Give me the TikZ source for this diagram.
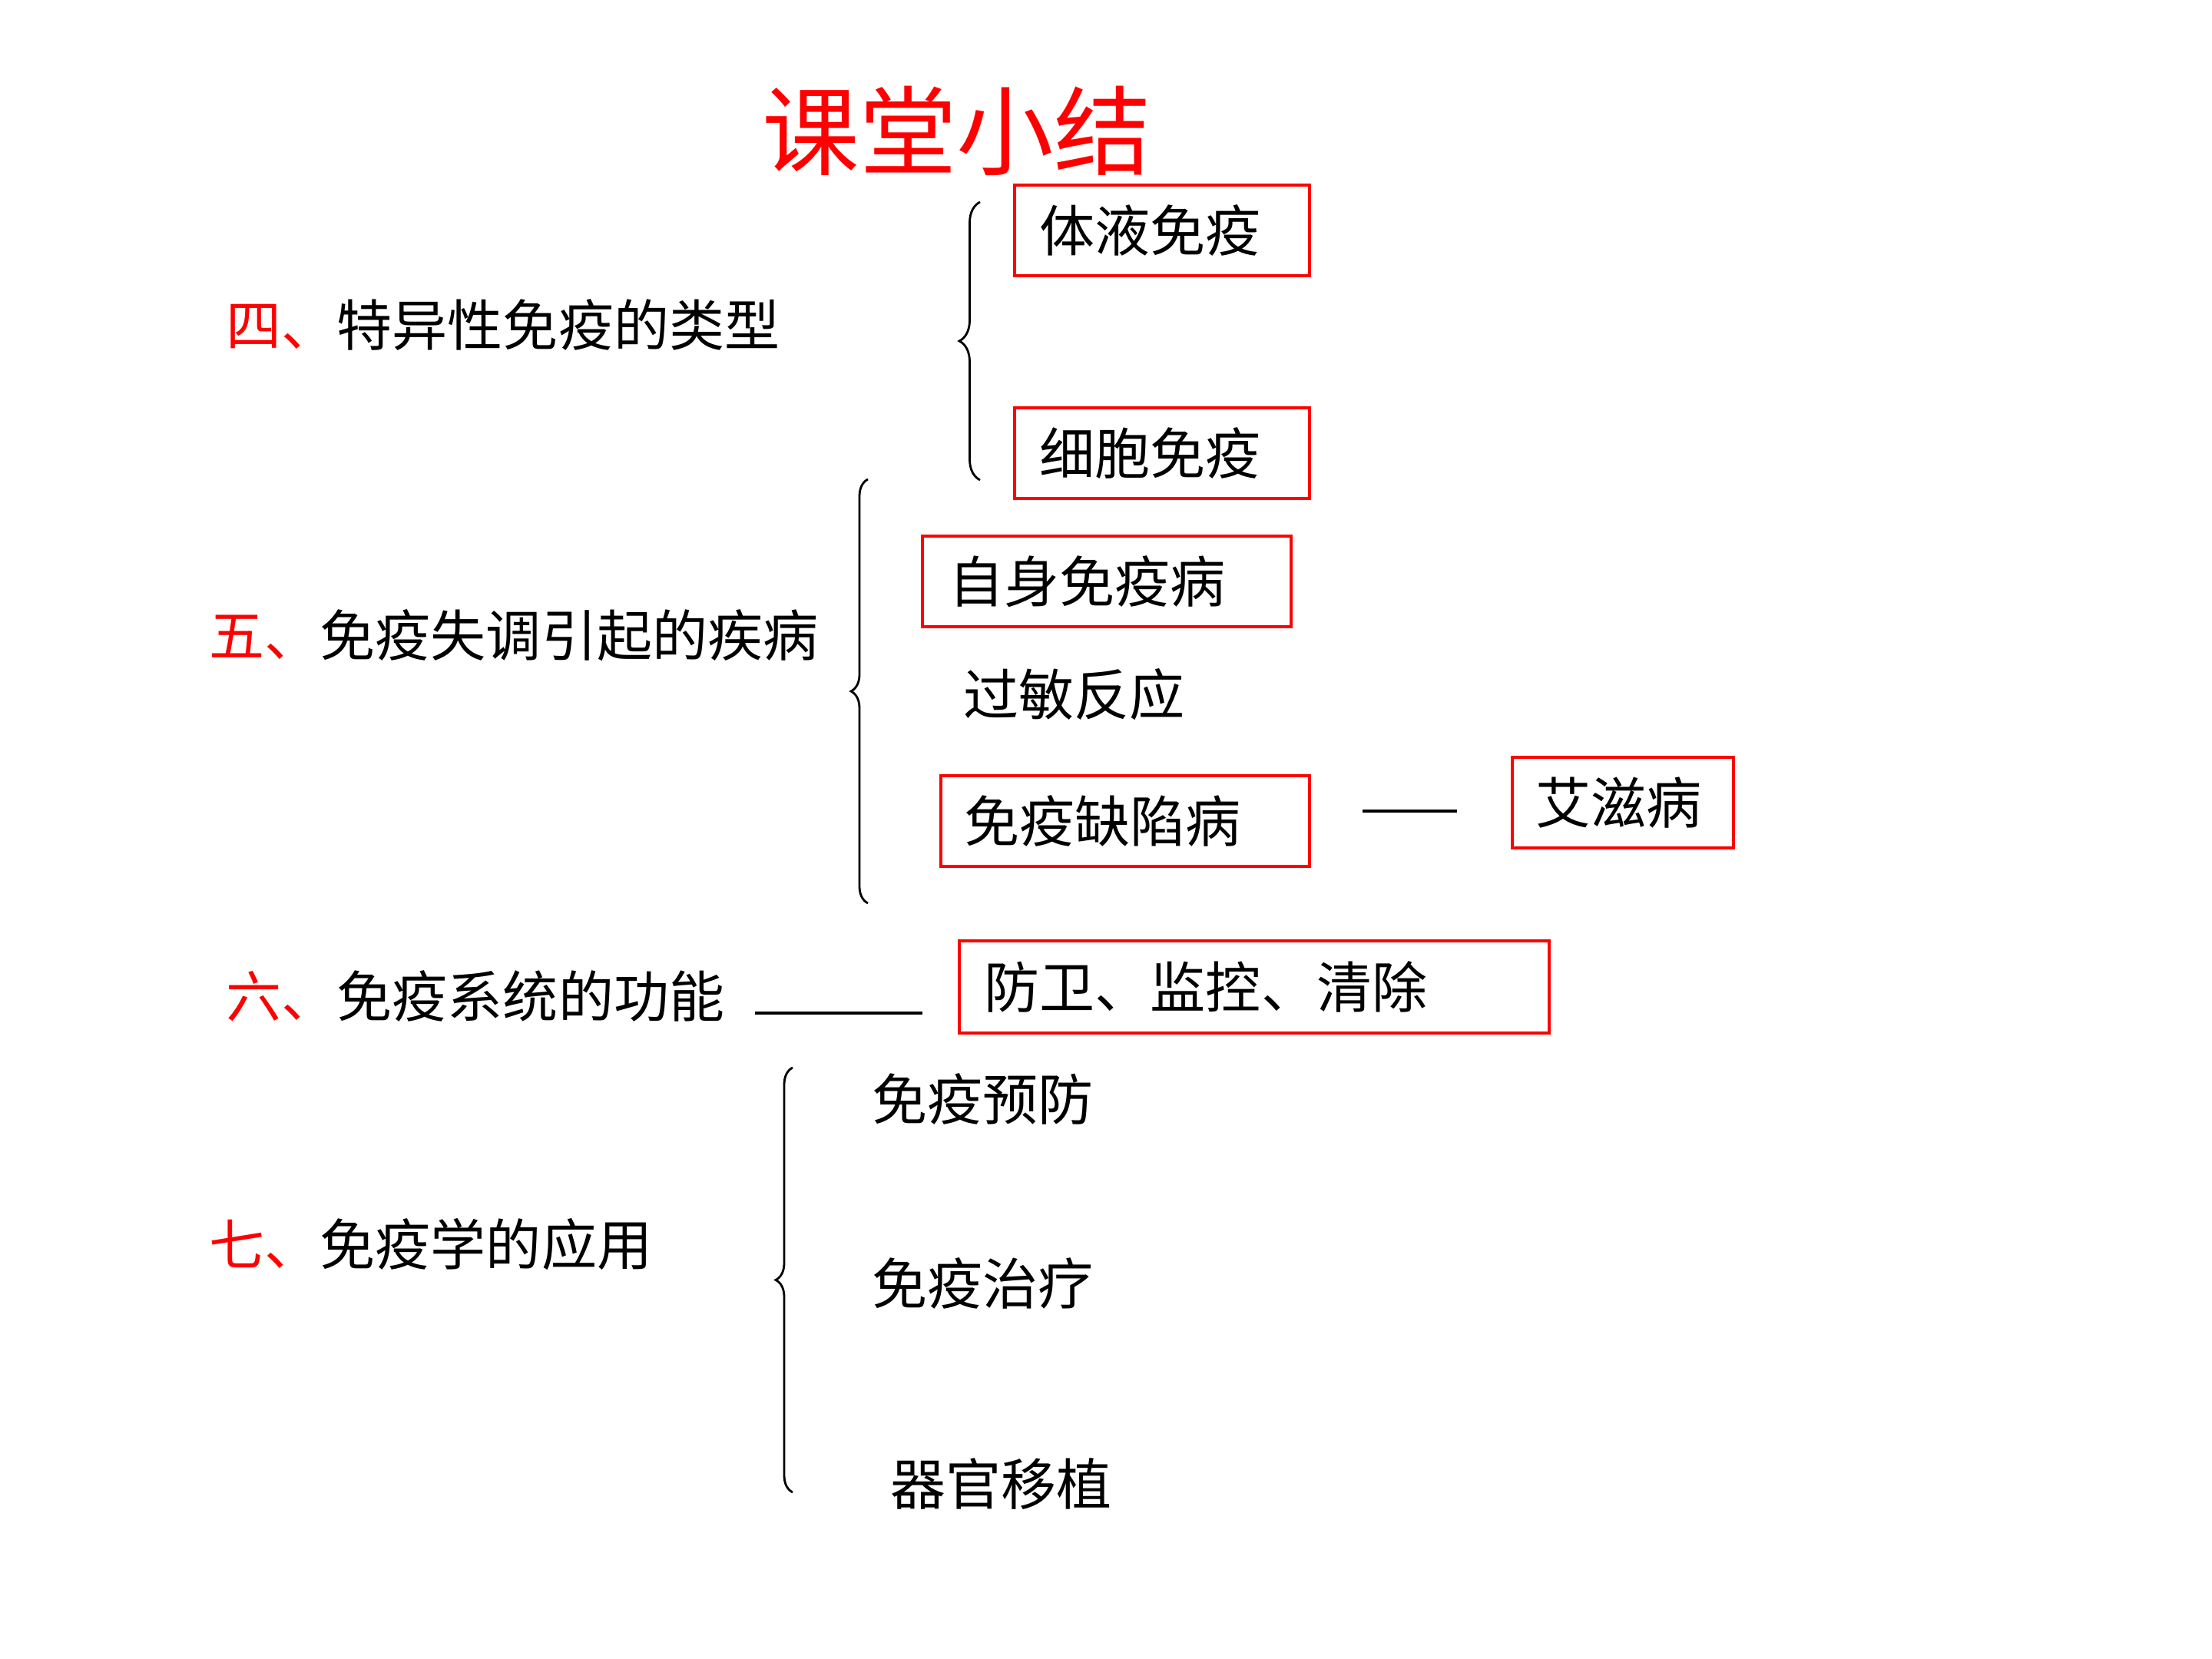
\documentclass[tikz,border=0pt]{standalone}
\usepackage{fontspec}
\setmainfont{Noto Sans CJK SC}
\usetikzlibrary{decorations.pathreplacing,calc}
\begin{document}
\begin{tikzpicture}[x=1cm,y=1cm,
  lbl/.style={anchor=west,inner sep=0pt,font=\fontsize{20.5}{24}\selectfont},
  rbox/.style={draw=red,line width=1pt,anchor=north west,inner ysep=0pt,
     minimum height=#1,align=left,font=\fontsize{20.5}{24}\selectfont},
  rbox/.default=1.18cm,
  brc/.style={decorate,decoration={brace,amplitude=#1},line width=0.8pt},
  conn/.style={line width=1.1pt}]
\useasboundingbox[fill=white] (0,0) rectangle (28.8,-21.6);
% title
\node[anchor=west,inner sep=0pt,text=red,font=\fontsize{36}{40}\selectfont] (title) at (9.92,-1.70) {课堂小结};
% section 4
\node[lbl] (s4) at (2.94,-4.23) {\textcolor{red}{四、}特异性免疫的类型};
\node[rbox,inner xsep=0.33cm,text width=3.18cm] (ty) at (13.19,-2.39) {体液免疫};
\node[rbox,inner xsep=0.33cm,text width=3.18cm] (xb) at (13.19,-5.29) {细胞免疫};
\coordinate (b1b) at (12.76,-6.25);
\coordinate (b1t) at (12.76,-2.63);
\draw[brc=0.27cm] (b1b) -- (b1t);
% section 5
\node[lbl] (s5) at (2.72,-8.27) {\textcolor{red}{五、}免疫失调引起的疾病};
\node[rbox,inner xsep=0.35cm,text width=4.10cm] (zs) at (11.99,-6.96) {自身免疫病};
\node[lbl] (gm) at (12.54,-9.04) {过敏反应};
\node[rbox,inner xsep=0.31cm,text width=4.18cm] (qx) at (12.23,-10.08) {免疫缺陷病};
\node[rbox,inner xsep=0.31cm,text width=2.26cm] (az) at (19.67,-9.84) {艾滋病};
\coordinate (dl) at (17.74,-10.56);
\coordinate (dr) at (18.97,-10.56);
\draw[conn] (dl) -- (dr);
\coordinate (b2b) at (11.30,-11.76);
\coordinate (b2t) at (11.30,-6.24);
\draw[brc=0.22cm] (b2b) -- (b2t);
% section 6
\node[lbl] (s6) at (2.94,-12.97) {\textcolor{red}{六、}免疫系统的功能};
\node[rbox=1.20cm,inner xsep=0.33cm,text width=7.02cm] (fw) at (12.47,-12.23) {防卫、监控、清除};
\coordinate (l6a) at (9.83,-13.19);
\coordinate (l6b) at (12.01,-13.19);
\draw[conn] (l6a) -- (l6b);
% section 7
\node[lbl] (s7) at (2.72,-16.20) {\textcolor{red}{七、}免疫学的应用};
\node[lbl] (yf) at (11.35,-14.31) {免疫预防};
\node[lbl] (zl) at (11.35,-16.71) {免疫治疗};
\node[lbl] (yz) at (11.59,-19.32) {器官移植};
\coordinate (b3b) at (10.32,-19.43);
\coordinate (b3t) at (10.32,-13.90);
\draw[brc=0.22cm] (b3b) -- (b3t);
\end{tikzpicture}
\end{document}
